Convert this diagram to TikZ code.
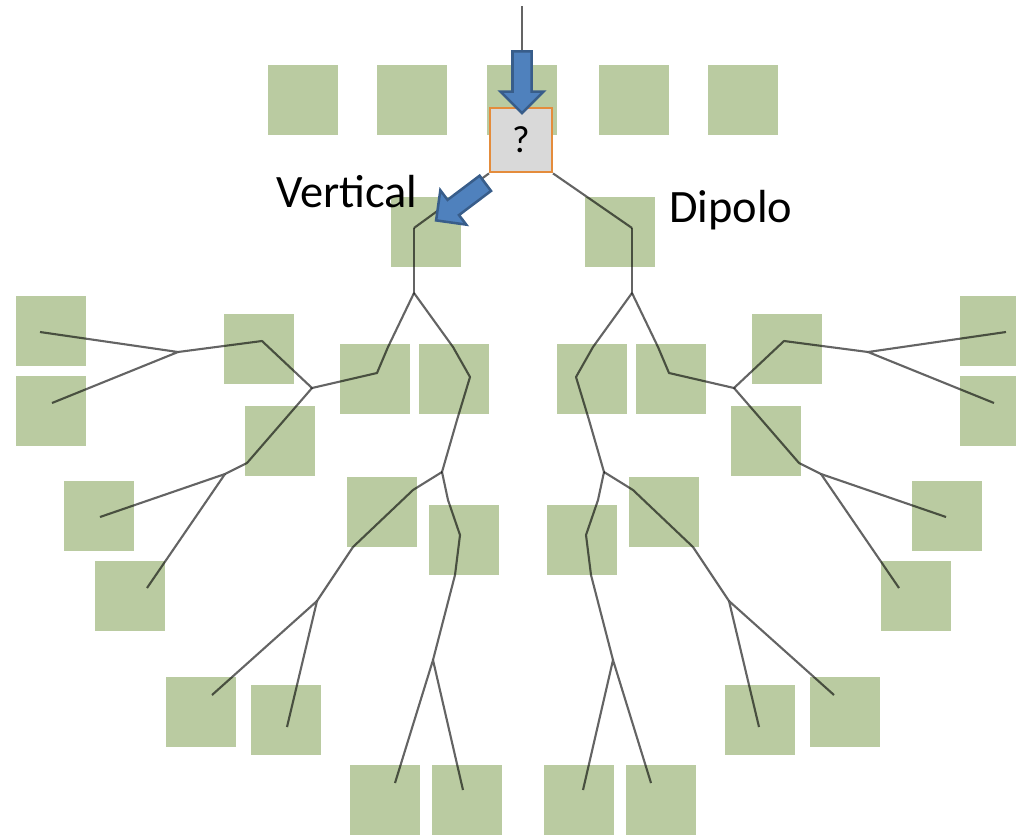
\documentclass[tikz,border=0pt]{standalone}
\usepackage{fontspec}
\setmainfont{Carlito}
\usetikzlibrary{shapes.arrows}

\definecolor{leafgreen}{RGB}{186,203,161}
\definecolor{branchgray}{RGB}{100,100,100}
\definecolor{arrowfill}{RGB}{79,129,189}
\definecolor{arrowline}{RGB}{56,93,138}
\definecolor{boxline}{RGB}{228,140,60}
\definecolor{boxfill}{RGB}{217,217,217}

\tikzset{
  leaf/.style={rectangle, fill=leafgreen, minimum size=1.74cm, inner sep=0pt},
  branch/.style={draw=branchgray, line width=1.5pt, line join=round},
  pointer/.style={single arrow, fill=arrowfill, draw=arrowline, line width=1.8pt,
                  minimum height=1.54cm, minimum width=1.01cm,
                  single arrow head extend=0.3cm, inner xsep=0pt, inner ysep=0.206cm},
  label/.style={anchor=base west, font=\fontsize{33}{36}\selectfont, inner sep=0pt}
}

% one half of the tree, the other half is its mirror image
\newcommand{\halftree}[1]{%
    \node[leaf] (s0#1)  at (426,232) {};
    \node[leaf] (s1#1)  at (51,331)  {};
    \node[leaf] (s2#1)  at (51,411)  {};
    \node[leaf] (s3#1)  at (259,349) {};
    \node[leaf] (s4#1)  at (280,441) {};
    \node[leaf] (s5#1)  at (99,516)  {};
    \node[leaf] (s6#1)  at (130,596) {};
    \node[leaf] (s7#1)  at (375,379) {};
    \node[leaf] (s8#1)  at (454,379) {};
    \node[leaf] (s9#1)  at (382,512) {};
    \node[leaf] (s10#1) at (464,540) {};
    \node[leaf] (s11#1) at (201,712) {};
    \node[leaf] (s12#1) at (286,720) {};
    \node[leaf] (s13#1) at (385,800) {};
    \node[leaf] (s14#1) at (467,800) {};

    \coordinate (k#1) at (414,228);
    \coordinate (a#1) at (414,293);
    \coordinate (b#1) at (312,388);
    \coordinate (c#1) at (178,352);
    \coordinate (d#1) at (225,474);
    \coordinate (e#1) at (442,472);
    \coordinate (f#1) at (317,601);
    \coordinate (g#1) at (433,660);
    \coordinate (c1#1) at (40,332);
    \coordinate (c2#1) at (52,403);
    \coordinate (d1#1) at (100,517);
    \coordinate (d2#1) at (147,588);
    \coordinate (f1#1) at (212,695);
    \coordinate (f2#1) at (287,727);
    \coordinate (g1#1) at (395,783);
    \coordinate (g2#1) at (463,790);

    \begin{scope}[blend mode=multiply]
        \draw[branch] (k#1) -- (a#1);
        \draw[branch] (a#1) -- (388,347) -- (377,373) -- (b#1);
        \draw[branch] (b#1) -- (262,341) -- (c#1);
        \draw[branch] (c#1) -- (c1#1) (c#1) -- (c2#1);
        \draw[branch] (b#1) -- (247,463) -- (d#1);
        \draw[branch] (d#1) -- (d1#1) (d#1) -- (d2#1);
        \draw[branch] (a#1) -- (453,347) -- (470,377) -- (457,420) -- (e#1);
        \draw[branch] (e#1) -- (413,490) -- (353,547) -- (f#1);
        \draw[branch] (f#1) -- (f1#1) (f#1) -- (f2#1);
        \draw[branch] (e#1) -- (448,500) -- (460,535) -- (455,575) -- (g#1);
        \draw[branch] (g#1) -- (g1#1) (g#1) -- (g2#1);
    \end{scope}
}

\begin{document}
\begin{tikzpicture}[x=0.025cm, y=-0.025cm]
    \useasboundingbox (0,0) rectangle (1016,835);

    % top row
    \foreach \i/\xx in {1/303, 2/412, 3/522, 4/634, 5/743}
        \node[leaf] (top\i) at (\xx,100) {};

    \halftree{L}
    \begin{scope}[shift={(1046,0)}, xscale=-1]
        \halftree{R}
    \end{scope}

    \node[draw=boxline, fill=boxfill, line width=1.4pt, minimum width=1.55cm,
          minimum height=1.62cm, inner sep=0pt, font=\fontsize{27}{30}\selectfont]
          (q) at (521,140) {?};
    \coordinate (in) at (522,6);

    \begin{scope}[blend mode=multiply]
        \draw[branch] (q.south west) -- (kL);
        \draw[branch] (q.south east) -- (kR);
    \end{scope}
    \draw[branch] (in) -- (522,50);

    \node[pointer, rotate=-90] (down) at (522,77.5) {};
    \node[pointer, rotate=217] (pick) at (464.5,199) {};

    \node[label] (vert) at (276,207) {Vertical};
    \node[label] (dip)  at (669,222) {Dipolo};
\end{tikzpicture}
\end{document}
